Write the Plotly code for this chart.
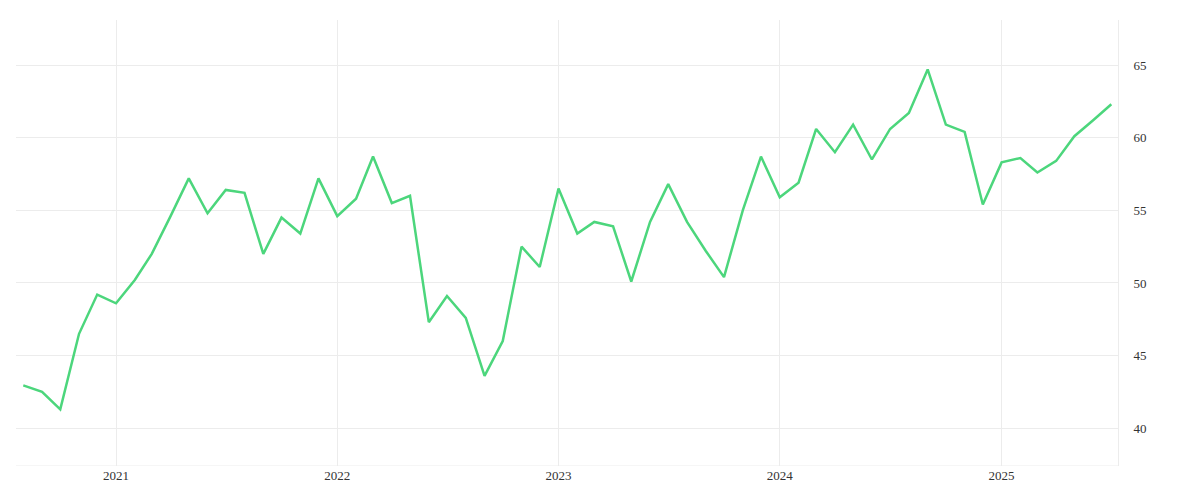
import pandas as pd
import plotly.graph_objects as go

dates = pd.date_range("2020-08-01", "2025-07-01", freq="MS")
values = [42.95, 42.5, 41.3, 46.5, 49.2,
          48.6, 50.2, 52.0, 54.6, 57.2, 54.8, 56.4, 56.2, 52.0, 54.5, 53.4, 57.2,
          54.6, 55.8, 58.7, 55.5, 56.0, 47.3, 49.1, 47.6, 43.6, 46.0, 52.5, 51.1,
          56.5, 53.4, 54.2, 53.9, 50.1, 54.2, 56.8, 54.2, 52.2, 50.4, 55.0, 58.7,
          55.9, 56.9, 60.6, 59.0, 60.9, 58.5, 60.6, 61.7, 64.7, 60.9, 60.4, 55.4,
          58.3, 58.6, 57.6, 58.4, 60.1, 61.2, 62.3]

fig = go.Figure(go.Scatter(x=dates, y=values, mode='lines',
                           line=dict(color='#4cd67c', width=2.5)))
fig.update_layout(
    width=1200, height=500, showlegend=False,
    plot_bgcolor='white', paper_bgcolor='white',
    margin=dict(l=8, r=90, t=12, b=42),
    font=dict(family='Liberation Serif', size=13, color='#333'),
    xaxis=dict(showgrid=True, gridcolor='#ececec', dtick='M12', tickformat='%Y',
               range=['2020-07-20', '2025-07-12'], zeroline=False, ticks='', showline=False),
    yaxis=dict(side='right', showgrid=True, gridcolor='#ececec', range=[37.4, 68.1],
               tickvals=[40, 45, 50, 55, 60, 65], zeroline=False, showline=True,
               linecolor='#ececec', ticks='', ticklabelstandoff=12),
)
fig.add_hline(y=37.4, line=dict(color='#ececec', width=1))
fig.write_html("out.html")
